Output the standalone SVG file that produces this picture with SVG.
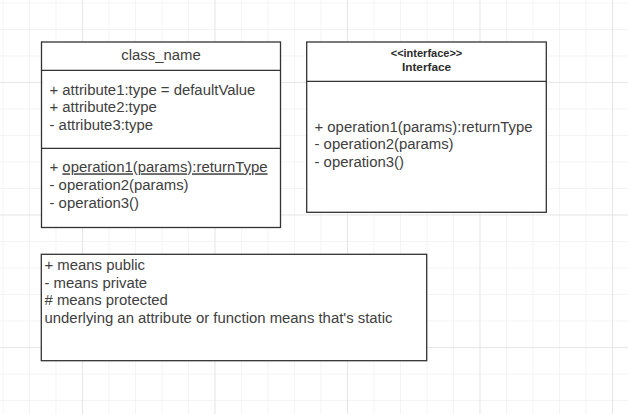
<svg xmlns="http://www.w3.org/2000/svg" width="628" height="414" viewBox="0 0 628 414">
<defs>
<style>
.minor{stroke:#eaeaea;stroke-width:1}
.major{stroke:#dadada;stroke-width:1}
.box{fill:#ffffff;stroke:#333333;stroke-width:1.3}
.sep{stroke:#333333;stroke-width:1.3}
.t{font-family:"Liberation Sans",Arial,sans-serif;font-size:14.9px;fill:#404040}
.b{font-family:"Liberation Sans",Arial,sans-serif;font-weight:bold;fill:#2b2b2b}
</style>
<pattern id="grid" x="2.5" y="2.5" width="26.5" height="26.5" patternUnits="userSpaceOnUse">
<path d="M0 0V26.5M0 0H26.5" fill="none" class="minor"/>
</pattern>
<pattern id="gridMajor" x="82" y="82" width="132.5" height="132.5" patternUnits="userSpaceOnUse">
<path d="M0 0V132.5M0 0H132.5" fill="none" class="major"/>
</pattern>
</defs>
<rect x="0" y="0" width="628" height="414" fill="#ffffff"/>
<rect x="0" y="0" width="628" height="414" fill="url(#grid)"/>
<rect x="0" y="0" width="628" height="414" fill="url(#gridMajor)"/>

<g id="class_name">
<rect class="box" x="41.5" y="42" width="239" height="185.5"/>
<line class="sep" x1="41.5" y1="70.3" x2="280.5" y2="70.3"/>
<line class="sep" x1="41.5" y1="148.3" x2="280.5" y2="148.3"/>
<text class="t" x="161" y="59.5" text-anchor="middle">class_name</text>
<text class="t" x="49.5" y="94.5">+ attribute1:type = defaultValue</text>
<text class="t" x="49.5" y="112.3">+ attribute2:type</text>
<text class="t" x="49.5" y="130">- attribute3:type</text>
<text class="t" x="49.5" y="172.3">+ <tspan text-decoration="underline">operation1(params):returnType</tspan></text>
<text class="t" x="49.5" y="190">- operation2(params)</text>
<text class="t" x="49.5" y="207.7">- operation3()</text>
</g>

<g id="interface">
<rect class="box" x="306.7" y="42" width="239.6" height="170.3"/>
<line class="sep" x1="306.7" y1="81.3" x2="546.3" y2="81.3"/>
<text class="b" x="426.5" y="56.5" text-anchor="middle" font-size="11">&lt;&lt;interface&gt;&gt;</text>
<text class="b" x="426.5" y="71" text-anchor="middle" font-size="11.8">Interface</text>
<text class="t" x="314.5" y="131.7">+ operation1(params):returnType</text>
<text class="t" x="314.5" y="149.3">- operation2(params)</text>
<text class="t" x="314.5" y="167">- operation3()</text>
</g>

<g id="legend">
<rect class="box" x="41.3" y="254.3" width="385.4" height="106.4"/>
<text class="t" x="44.5" y="270">+ means public</text>
<text class="t" x="44.5" y="287.7">- means private</text>
<text class="t" x="44.5" y="305.3"># means protected</text>
<text class="t" x="44.5" y="323">underlying an attribute or function means that's static</text>
</g>

<g id="connectors"/>
</svg>
